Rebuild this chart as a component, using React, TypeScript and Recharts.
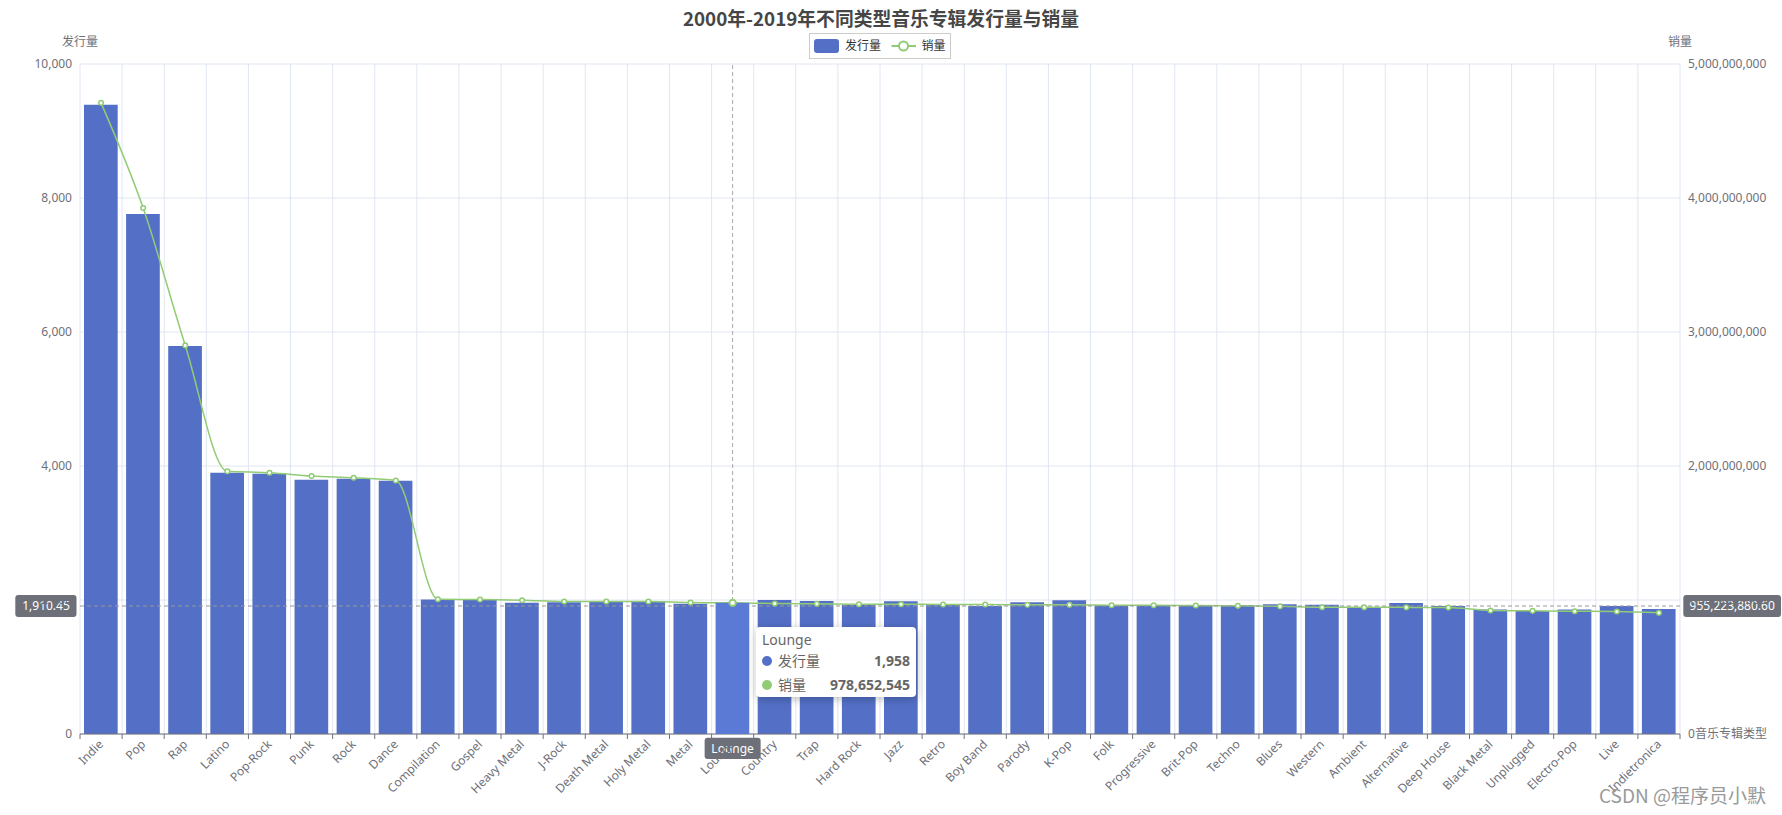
import React from 'react';
import {
  ComposedChart,
  Bar,
  Line,
  XAxis,
  YAxis,
  CartesianGrid,
  Tooltip,
  Legend,
  ReferenceLine,
} from 'recharts';

const categories = [
  'Indie', 'Pop', 'Rap', 'Latino', 'Pop-Rock', 'Punk', 'Rock', 'Dance', 'Compilation', 'Gospel',
  'Heavy Metal', 'J-Rock', 'Death Metal', 'Holy Metal', 'Metal', 'Lounge', 'Country', 'Trap', 'Hard Rock', 'Jazz',
  'Retro', 'Boy Band', 'Parody', 'K-Pop', 'Folk', 'Progressive', 'Brit-Pop', 'Techno', 'Blues', 'Western',
  'Ambient', 'Alternative', 'Deep House', 'Black Metal', 'Unplugged', 'Electro-Pop', 'Live', 'Indietronica',
];

const releases = [
  9393, 7761, 5791, 3900, 3885, 3795, 3810, 3780, 2009, 2009,
  1960, 1965, 1975, 1980, 1945, 1958, 2000, 1985, 1930, 1980,
  1935, 1910, 1965, 1995, 1920, 1925, 1925, 1920, 1935, 1930,
  1880, 1955, 1910, 1860, 1835, 1860, 1910, 1865,
];

const sales = [
  4710000000, 3925000000, 2900000000, 1960000000, 1950000000, 1925000000, 1912000000, 1892000000, 1006000000, 1003500000,
  998600000, 988600000, 988600000, 988600000, 981100000, 978652545, 973700000, 971200000, 968700000, 968700000,
  966200000, 966200000, 963700000, 963700000, 961200000, 961200000, 958700000, 956300000, 952500000, 946300000,
  946300000, 945000000, 943800000, 921400000, 918900000, 916400000, 914000000, 904000000,
];

const leftTicks = [0, 2000, 4000, 6000, 8000, 10000];
const rightTicks = [0, 1000000000, 2000000000, 3000000000, 4000000000, 5000000000];

const hoverCategory = 'Lounge';
const hoverIndex = 15;
const crossLeftValue = 1910.45;
const crossRightText = '955,223,880.60';

const data = categories.map((c, i) => ({ name: c, releases: releases[i], sales: sales[i] }));

const W = 1782;
const H = 815;
const MARGIN = { top: 64, right: 22, bottom: 21, left: 20 };
const LEFT_AXIS_W = 60;
const RIGHT_AXIS_W = 80;
const PLOT_W = W - MARGIN.left - MARGIN.right - LEFT_AXIS_W - RIGHT_AXIS_W;
const BAND = PLOT_W / categories.length;
const BAR_SIZE = BAND * 0.8;

const FONT = '"Microsoft YaHei", "Noto Sans", "Noto Sans CJK SC", sans-serif';
const AXIS_COLOR = '#6E7079';
const GRID_COLOR = '#E0E6F1';
const BLUE = '#5470c6';
const GREEN = '#91cc75';

const fmt = (v: number) => Number(v).toLocaleString('en-US');

const XTick = (props: any) => {
  const { x, y, payload, index } = props;
  const bx = x - BAND / 2;
  return (
    <g>
      <line x1={bx} x2={bx} y1={y} y2={y + 5} stroke={AXIS_COLOR} strokeWidth={1} />
      {index === categories.length - 1 && (
        <line x1={x + BAND / 2} x2={x + BAND / 2} y1={y} y2={y + 5} stroke={AXIS_COLOR} strokeWidth={1} />
      )}
      <text
        x={x}
        y={y + 8}
        dy="0.35em"
        textAnchor="end"
        transform={`rotate(-45, ${x}, ${y + 8})`}
        fill={AXIS_COLOR}
        fontSize={12}
        fontFamily={FONT}
      >
        {payload.value}
      </text>
    </g>
  );
};

const TipContent = (props: any) => {
  const { active, payload, label } = props;
  if (!active || !payload || !payload.length) return null;
  return (
    <div
      style={{
        width: 160,
        height: 70,
        boxSizing: 'border-box',
        background: '#fff',
        borderRadius: 4,
        boxShadow: 'rgba(0,0,0,0.25) 1px 2px 10px',
        padding: '4px 6px 0 6px',
        fontFamily: FONT,
        color: '#666',
        fontSize: 14,
      }}
    >
      <div style={{ lineHeight: '18px' }}>{label}</div>
      {payload.map((p: any) => (
        <div key={p.dataKey} style={{ lineHeight: '24px', height: 24, display: 'flex', alignItems: 'center' }}>
          <span
            style={{
              display: 'inline-block',
              width: 10,
              height: 10,
              borderRadius: 5,
              background: p.dataKey === 'sales' ? GREEN : BLUE,
              marginRight: 6,
            }}
          />
          <span>{p.name}</span>
          <span style={{ marginLeft: 'auto', fontWeight: 'bold' }}>{fmt(p.value)}</span>
        </div>
      ))}
    </div>
  );
};

const LegendContent = () => (
  <svg width={142} height={26} style={{ display: 'block' }}>
    <rect x={0.5} y={0.5} width={141} height={25} fill="#fff" stroke="#ccc" strokeWidth={1} />
    <rect x={5} y={6} width={25} height={14} rx={3} fill={BLUE} />
    <text x={36} y={13} dy="0.35em" fontSize={12} fill="#333" fontFamily={FONT}>发行量</text>
    <line x1={82.5} x2={107} y1={13} y2={13} stroke={GREEN} strokeWidth={2} />
    <circle cx={94.5} cy={13} r={4.5} fill="#fff" stroke={GREEN} strokeWidth={2} />
    <text x={112.5} y={13} dy="0.35em" fontSize={12} fill="#333" fontFamily={FONT}>销量</text>
  </svg>
);

const HLabel = (props: any) => {
  const vb = props.viewBox || {};
  const x = vb.x ?? 0;
  const y = vb.y ?? 0;
  const w = vb.width ?? 0;
  return (
    <g>
      <rect x={x - 64.7} y={y - 11} width={61.2} height={22} rx={3} fill={AXIS_COLOR} />
      <text x={x - 34} y={y} dy="0.35em" textAnchor="middle" fill="#fff" fontSize={12} fontFamily={FONT}>
        {fmt(crossLeftValue)}
      </text>
      <rect x={x + w + 3.3} y={y - 11} width={97.7} height={22} rx={3} fill={AXIS_COLOR} />
      <text x={x + w + 52.2} y={y} dy="0.35em" textAnchor="middle" fill="#fff" fontSize={12} fontFamily={FONT}>
        {crossRightText}
      </text>
    </g>
  );
};

const VLabel = (props: any) => {
  const vb = props.viewBox || {};
  const x = vb.x ?? 0;
  const bottom = (vb.y ?? 0) + (vb.height ?? 0);
  return (
    <g>
      <rect x={x - 28} y={bottom + 3.7} width={56} height={21.3} rx={3} fill={AXIS_COLOR} />
      <text x={x} y={bottom + 14.5} dy="0.35em" textAnchor="middle" fill="#fff" fontSize={12} fontFamily={FONT}>
        {hoverCategory}
      </text>
    </g>
  );
};

const textStyle: React.CSSProperties = {
  position: 'absolute',
  fontFamily: FONT,
  fontSize: 12,
  color: AXIS_COLOR,
  lineHeight: '16px',
  whiteSpace: 'nowrap',
};

export default function App() {
  return (
    <div style={{ position: 'absolute', left: 0, top: 0, width: W, height: H, background: '#fff' }}>
      <ComposedChart width={W} height={H} data={data} margin={MARGIN} barCategoryGap="20%">
        <CartesianGrid
          yAxisId="left"
          stroke={GRID_COLOR}
          vertical={true}
          horizontal={true}
          verticalCoordinatesGenerator={({ offset }: any) =>
            Array.from({ length: categories.length + 1 }, (_, i) => offset.left + i * (offset.width / categories.length))
          }
        />
        <XAxis
          dataKey="name"
          interval={0}
          height={60}
          tickLine={false}
          tickSize={0}
          tickMargin={0}
          axisLine={{ stroke: AXIS_COLOR }}
          tick={<XTick />}
        />
        <YAxis
          yAxisId="left"
          orientation="left"
          width={LEFT_AXIS_W}
          domain={[0, 10000]}
          ticks={leftTicks}
          axisLine={false}
          tickLine={false}
          tickSize={0}
          tickMargin={8}
          tickFormatter={fmt}
          tick={{ fill: AXIS_COLOR, fontSize: 12, fontFamily: FONT }}
        />
        <YAxis
          yAxisId="right"
          orientation="right"
          width={RIGHT_AXIS_W}
          domain={[0, 5000000000]}
          ticks={rightTicks}
          axisLine={false}
          tickLine={false}
          tickSize={0}
          tickMargin={8}
          tickFormatter={fmt}
          tick={{ fill: AXIS_COLOR, fontSize: 12, fontFamily: FONT }}
        />
        <Bar
          yAxisId="left"
          dataKey="releases"
          name="发行量"
          fill={BLUE}
          barSize={BAR_SIZE}
          activeBar={{ fill: '#5b7ad6' }}
          isAnimationActive={false}
        />
        <Line
          yAxisId="right"
          dataKey="sales"
          name="销量"
          type="monotone"
          stroke={GREEN}
          strokeWidth={1.5}
          dot={{ r: 2.3, fill: '#fff', stroke: GREEN, strokeWidth: 1.5 }}
          activeDot={{ r: 3.2, fill: '#fff', stroke: GREEN, strokeWidth: 2 }}
          isAnimationActive={false}
        />
        <ReferenceLine
          yAxisId="left"
          x={hoverCategory}
          stroke="#aaa"
          strokeDasharray="4 3"
          label={(p: any) => <VLabel {...p} />}
        />
        <ReferenceLine
          yAxisId="left"
          y={crossLeftValue}
          stroke="#999"
          strokeDasharray="4 3"
          label={(p: any) => <HLabel {...p} />}
        />
        <Legend
          verticalAlign="middle"
          align="center"
          layout="horizontal"
          wrapperStyle={{ position: 'absolute', top: 33, left: 809, width: 142, height: 26 }}
          content={() => <LegendContent />}
        />
        <Tooltip
          defaultIndex={hoverIndex}
          active={true}
          cursor={false}
          position={{ x: 756, y: 627 }}
          isAnimationActive={false}
          wrapperStyle={{ outline: 'none' }}
          content={(p: any) => <TipContent {...p} />}
        />
      </ComposedChart>

      <div
        style={{
          position: 'absolute',
          left: 0,
          top: 5,
          width: 1762,
          textAlign: 'center',
          fontFamily: '"Microsoft YaHei", "Noto Sans CJK SC", sans-serif',
          fontWeight: 'bold',
          fontSize: 18.8,
          lineHeight: '25px',
          color: '#464646',
        }}
      >
        2000年-2019年不同类型音乐专辑发行量与销量
      </div>
      <div style={{ ...textStyle, left: 50, width: 60, textAlign: 'center', top: 34 }}>发行量</div>
      <div style={{ ...textStyle, left: 1650, width: 60, textAlign: 'center', top: 34 }}>销量</div>
      <div style={{ ...textStyle, left: 1695, top: 726 }}>音乐专辑类型</div>
      <div
        style={{
          position: 'absolute',
          right: 16,
          top: 782,
          fontFamily: '"Noto Sans CJK SC", sans-serif',
          fontSize: 19,
          lineHeight: '26px',
          color: '#9a9a9a',
          whiteSpace: 'nowrap',
        }}
      >
        CSDN @程序员小默
      </div>
    </div>
  );
}
